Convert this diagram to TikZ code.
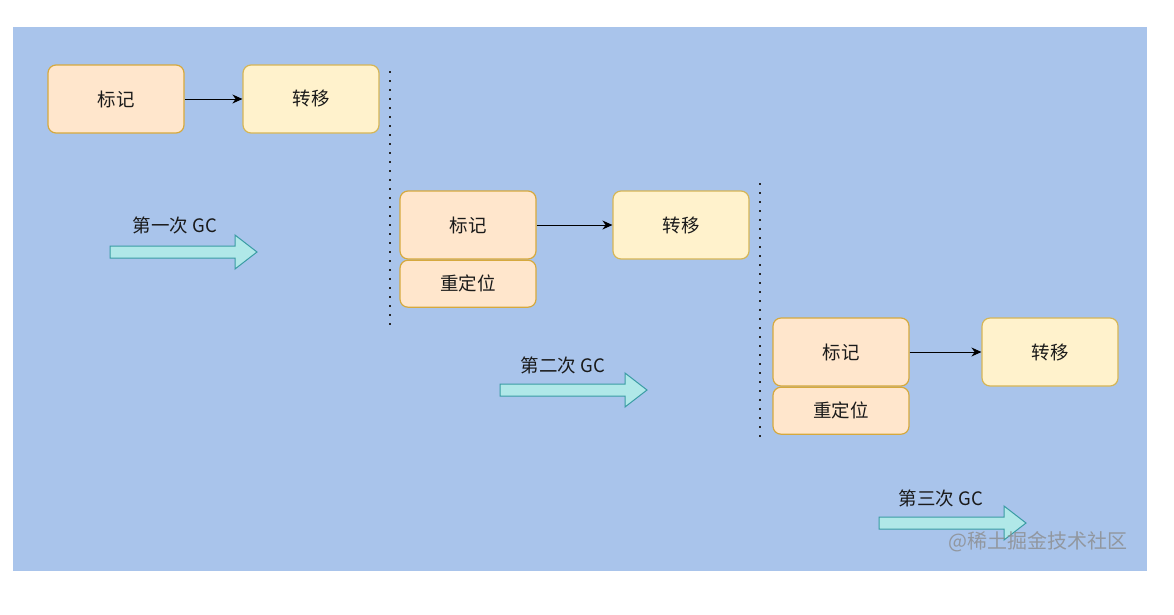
\documentclass[tikz,border=0pt]{standalone}
\usepackage{fontspec}
\setmainfont{Noto Sans CJK SC}
\usetikzlibrary{arrows.meta}
\definecolor{bgblue}{HTML}{A9C4EB}
\definecolor{orfill}{HTML}{FFE6CC}
\definecolor{orline}{HTML}{D6A93E}
\definecolor{yefill}{HTML}{FFF2CC}
\definecolor{yeline}{HTML}{D6B656}
\definecolor{cyfill}{HTML}{B0E8E8}
\definecolor{cyline}{HTML}{3A9CA4}
\definecolor{txt}{HTML}{1A1A1A}
\tikzset{
  boxfont/.style={font=\fontsize{18.5}{20}\selectfont, text=txt},
  obox/.style={draw=orline, fill=orfill, line width=1.2pt, rounded corners=8pt, minimum width=136pt, minimum height=68pt, inner sep=0pt, boxfont},
  rbox/.style={draw=orline, fill=orfill, line width=1.2pt, rounded corners=8pt, minimum width=136pt, minimum height=47pt, inner sep=0pt, boxfont},
  ybox/.style={draw=yeline, fill=yefill, line width=1.2pt, rounded corners=8pt, minimum width=136pt, minimum height=68pt, inner sep=0pt, boxfont},
  conn/.style={draw=black, line width=1pt, -{Stealth[length=10pt,width=9pt]}},
  sep/.style={draw=black!85, line width=2pt, dash pattern=on 2pt off 7pt},
  gclabel/.style={font=\fontsize{18.5}{20}\selectfont, text=txt, inner sep=0pt},
  gcarrow/.style={draw=cyline, fill=cyfill, line width=1pt, line join=miter},
}
\newcommand{\gcarr}[2]{%
  \path[gcarrow] (#1,#2+6) -- (#1+125,#2+6) -- (#1+125,#2+17) -- (#1+147,#2) -- (#1+125,#2-17) -- (#1+125,#2-6) -- (#1,#2-6) -- cycle;}
\begin{document}
\begin{tikzpicture}[x=1pt,y=-1pt]
\useasboundingbox (0,0) rectangle (1174,614);
\fill[white] (0,0) rectangle (1174,614);
\fill[bgblue] (13,27) rectangle (1147,571);

% stage 1
\node[obox] (m1) at (116,99) {标记};
\node[ybox] (t1) at (311,99) {转移};
\draw[conn] (m1) -- (t1);
\coordinate (d1a) at (390,71);
\coordinate (d1b) at (390,330);
\draw[sep] (d1a) -- (d1b);
\node[gclabel] (g1) at (175,225) {第一次 GC};
\gcarr{110}{252}

% stage 2
\node[obox] (m2) at (468,225) {标记};
\node[rbox, anchor=north] (r2) at (m2.south) {重定位};
\node[ybox] (t2) at (681,225) {转移};
\draw[conn] (m2) -- (t2);
\coordinate (d2a) at (760,183);
\coordinate (d2b) at (760,440);
\draw[sep] (d2a) -- (d2b);
\node[gclabel] (g2) at (563,365) {第二次 GC};
\gcarr{500}{390}

% stage 3
\node[obox] (m3) at (841,352) {标记};
\node[rbox, anchor=north] (r3) at (m3.south) {重定位};
\node[ybox] (t3) at (1050,352) {转移};
\draw[conn] (m3) -- (t3);
\node[gclabel] (g3) at (941,498) {第三次 GC};
\gcarr{879}{523}

% watermark
\node[font=\fontsize{20}{22}\selectfont, text=black!45, opacity=0.8, inner sep=0pt] (wm) at (1038,542) {@稀土掘金技术社区};
\end{tikzpicture}
\end{document}
